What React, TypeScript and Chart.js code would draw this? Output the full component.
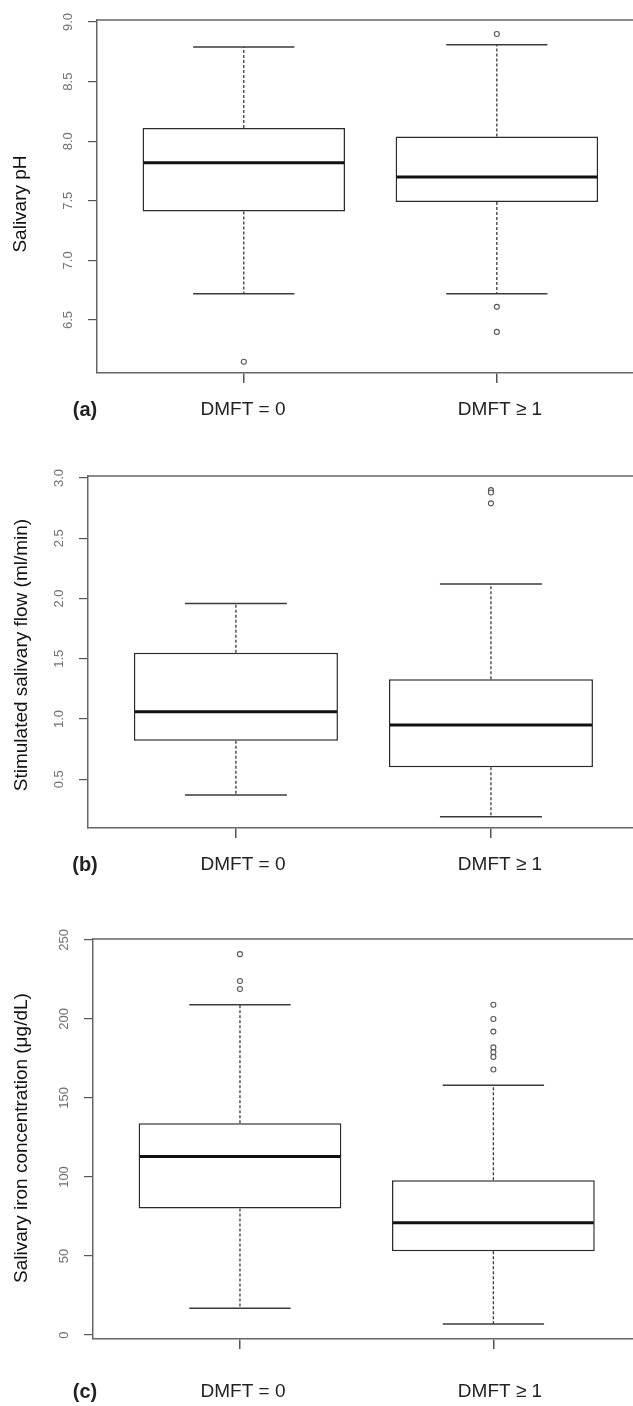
import React, { useEffect, useRef } from "react";
import { Chart, registerables } from "chart.js";

Chart.register(...registerables);

// ---------- data ----------
const categories = ["DMFT = 0", "DMFT ≥ 1"];
const panelLetters = ["(a)", "(b)", "(c)"];
const yTitles = [
  "Salivary pH",
  "Stimulated salivary flow (ml/min)",
  "Salivary iron concentration (\u03bcg/dL)",
];

// (a) Salivary pH
const phLow = [6.72, 6.72];
const phQ1 = [7.41, 7.49];
const phMedian = [7.82, 7.7];
const phQ3 = [8.11, 8.04];
const phHigh = [8.79, 8.81];
const phOutliers = [[6.15], [8.9, 6.61, 6.4]];
const phTicks = [6.5, 7.0, 7.5, 8.0, 8.5, 9.0];

// (b) Stimulated salivary flow
const flowLow = [0.37, 0.19];
const flowQ1 = [0.82, 0.6];
const flowMedian = [1.06, 0.95];
const flowQ3 = [1.55, 1.33];
const flowHigh = [1.96, 2.12];
const flowOutliers = [[], [2.9, 2.88, 2.79]];
const flowTicks = [0.5, 1.0, 1.5, 2.0, 2.5, 3.0];

// (c) Salivary iron concentration
const ironLow = [17, 7];
const ironQ1 = [80, 53];
const ironMedian = [113, 71];
const ironQ3 = [134, 98];
const ironHigh = [209, 158];
const ironOutliers = [
  [241, 224, 219],
  [209, 200, 192, 182, 179, 176, 168],
];
const ironTicks = [0, 50, 100, 150, 200, 250];

// ---------- layout ----------
const FONT = '"Liberation Sans", Arial, Helvetica, sans-serif';

const panels = [
  {
    letter: panelLetters[0], title: yTitles[0],
    low: phLow, q1: phQ1, med: phMedian, q3: phQ3, high: phHigh, outliers: phOutliers,
    ticks: phTicks, decimals: 1, yMin: 6.055, yMax: 9.017, xMax: 2.538,
    canvasTop: 0, canvasH: 430, padTop: 20, left: 97, axisH: 57,
    labelY: 410, titleX: 21, titleY: 204,
  },
  {
    letter: panelLetters[1], title: yTitles[1],
    low: flowLow, q1: flowQ1, med: flowMedian, q3: flowQ3, high: flowHigh, outliers: flowOutliers,
    ticks: flowTicks, decimals: 1, yMin: 0.096, yMax: 3.017, xMax: 2.557,
    canvasTop: 430, canvasH: 450, padTop: 46, left: 88, axisH: 52,
    labelY: 435, titleX: 22, titleY: 225,
  },
  {
    letter: panelLetters[2], title: yTitles[2],
    low: ironLow, q1: ironQ1, med: ironMedian, q3: ironQ3, high: ironHigh, outliers: ironOutliers,
    ticks: ironTicks, decimals: 0, yMin: -2.5, yMax: 250.6, xMax: 2.551,
    canvasTop: 880, canvasH: 526, padTop: 59, left: 93, axisH: 67,
    labelY: 512, titleX: 22, titleY: 258,
  },
];

const labelXs = [243, 500];
const letterX = 85;

function BoxPanel({ p }: { p: any }) {
  const ref = useRef<HTMLCanvasElement>(null);

  useEffect(() => {
    const canvas = ref.current!;
    const boxData = categories.map((_, i) => ({ x: i + 1, y: [p.q1[i], p.q3[i]] }));
    const outData = p.outliers.flatMap((arr: number[], i: number) =>
      arr.map((v) => ({ x: i + 1, y: v }))
    );

    const line = (ctx: CanvasRenderingContext2D, x1: number, y1: number, x2: number, y2: number) => {
      ctx.beginPath();
      ctx.moveTo(x1, y1);
      ctx.lineTo(x2, y2);
      ctx.stroke();
    };

    const extras = {
      id: "boxExtras",
      afterDatasetsDraw(chart: any) {
        const ctx = chart.ctx as CanvasRenderingContext2D;
        const ys = chart.scales.y;
        const meta = chart.getDatasetMeta(0);
        ctx.save();
        categories.forEach((_, i) => {
          const el = meta.data[i] as any;
          const cx = el.x;
          const half = el.width / 2;
          const capHalf = half / 2;
          const yLow = ys.getPixelForValue(p.low[i]);
          const yQ1 = ys.getPixelForValue(p.q1[i]);
          const yMed = ys.getPixelForValue(p.med[i]);
          const yQ3 = ys.getPixelForValue(p.q3[i]);
          const yHigh = ys.getPixelForValue(p.high[i]);
          ctx.strokeStyle = "#3a3a3a";
          ctx.lineWidth = 1.3;
          ctx.setLineDash([3, 2]);
          line(ctx, cx, yQ3, cx, yHigh);
          line(ctx, cx, yQ1, cx, yLow);
          ctx.setLineDash([]);
          ctx.lineWidth = 1.5;
          line(ctx, cx - capHalf, yHigh, cx + capHalf, yHigh);
          line(ctx, cx - capHalf, yLow, cx + capHalf, yLow);
          ctx.strokeStyle = "#111";
          ctx.lineWidth = 3;
          line(ctx, cx - half + 1, yMed, cx + half - 1, yMed);
        });
        ctx.restore();
      },
      afterDraw(chart: any) {
        const ctx = chart.ctx as CanvasRenderingContext2D;
        const ys = chart.scales.y;
        const area = chart.chartArea;
        ctx.save();
        // top frame line
        ctx.strokeStyle = "#666";
        ctx.lineWidth = 1.5;
        line(ctx, area.left, area.top, area.right, area.top);
        // y tick labels (rotated)
        ctx.fillStyle = "#707070";
        ctx.font = `13px ${FONT}`;
        ctx.textAlign = "center";
        ctx.textBaseline = "middle";
        ys.ticks.forEach((t: any) => {
          const y = ys.getPixelForValue(t.value);
          ctx.save();
          ctx.translate(area.left - 29, y);
          ctx.rotate(-Math.PI / 2);
          ctx.fillText(Number(t.value).toFixed(p.decimals), 0, 0);
          ctx.restore();
        });
        // y title
        ctx.fillStyle = "#111";
        ctx.font = `19px ${FONT}`;
        ctx.save();
        ctx.translate(p.titleX, p.titleY);
        ctx.rotate(-Math.PI / 2);
        ctx.fillText(p.title, 0, 0);
        ctx.restore();
        // panel letter
        ctx.fillStyle = "#222";
        ctx.font = `bold 20px ${FONT}`;
        ctx.fillText(p.letter, letterX, p.labelY);
        // category labels
        ctx.font = `19px ${FONT}`;
        categories.forEach((c, i) => ctx.fillText(c, labelXs[i], p.labelY));
        ctx.restore();
      },
    };

    const chart = new Chart(canvas, {
      type: "bar",
      data: {
        datasets: [
          {
            type: "bar",
            data: boxData as any,
            backgroundColor: "#ffffff",
            borderColor: "#2a2a2a",
            borderWidth: 1.5,
            borderSkipped: false,
            barPercentage: 1,
            categoryPercentage: 0.8,
          } as any,
          {
            type: "scatter",
            data: outData,
            showLine: false,
            pointRadius: 2.5,
            pointBorderWidth: 1.1,
            pointBorderColor: "#555",
            pointBackgroundColor: "#ffffff",
          } as any,
        ],
      },
      options: {
        responsive: false,
        animation: false,
        devicePixelRatio: 1,
        layout: { autoPadding: false, padding: { top: p.padTop, left: 0, right: 0, bottom: 0 } },
        plugins: { legend: { display: false }, tooltip: { enabled: false } },
        scales: {
          x: {
            type: "linear",
            min: 0.42,
            max: p.xMax,
            offset: false,
            grid: {
              display: true,
              drawOnChartArea: false,
              drawTicks: true,
              tickLength: 10,
              color: "#555",
              lineWidth: 1.5,
              offset: false,
            },
            border: { display: true, color: "#666", width: 1.5 },
            ticks: { display: false },
            afterBuildTicks: (s: any) => {
              s.ticks = categories.map((_, i) => ({ value: i + 1 }));
            },
            afterFit: (s: any) => {
              s.height = p.axisH;
            },
          } as any,
          y: {
            type: "linear",
            min: p.yMin,
            max: p.yMax,
            grid: {
              display: true,
              drawOnChartArea: false,
              drawTicks: true,
              tickLength: 9,
              color: "#555",
              lineWidth: 1.2,
            },
            border: { display: true, color: "#666", width: 1.5 },
            ticks: { display: false },
            afterBuildTicks: (s: any) => {
              s.ticks = p.ticks.map((v: number) => ({ value: v }));
            },
            afterFit: (s: any) => {
              s.width = p.left;
            },
          } as any,
        },
      },
      plugins: [extras],
    });
    return () => chart.destroy();
  }, [p]);

  return (
    <canvas
      ref={ref}
      width={633}
      height={p.canvasH}
      style={{
        position: "absolute",
        left: 0,
        top: p.canvasTop,
        width: 633,
        height: p.canvasH,
        display: "block",
      }}
    />
  );
}

export default function App() {
  return (
    <div
      style={{
        position: "absolute",
        left: 0,
        top: 0,
        width: 633,
        height: 1406,
        overflow: "hidden",
        background: "#ffffff",
      }}
    >
      {panels.map((p, i) => (
        <BoxPanel key={i} p={p} />
      ))}
    </div>
  );
}
